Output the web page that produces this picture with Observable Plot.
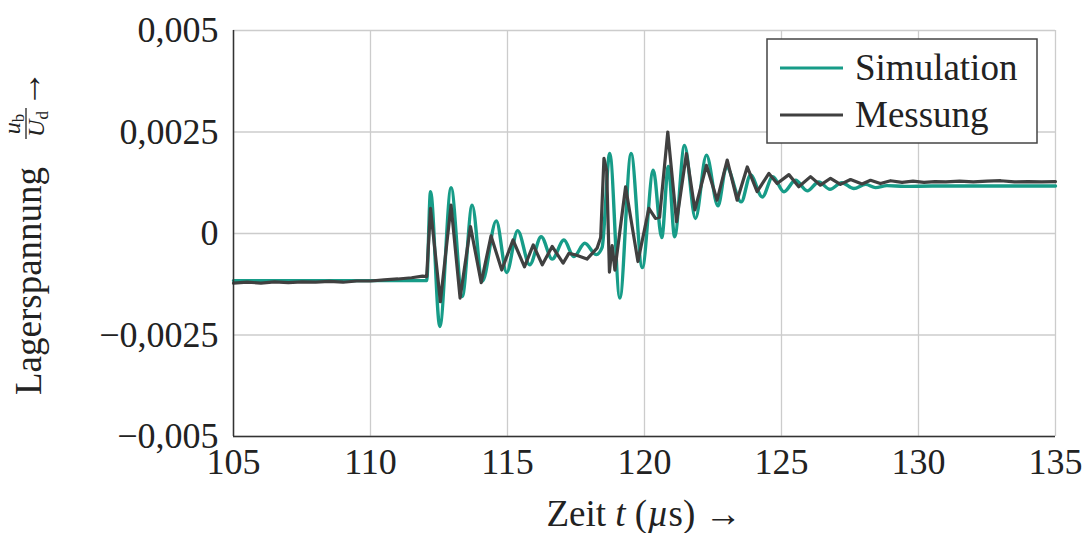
<!DOCTYPE html>
<html><head><meta charset="utf-8">
<script src="https://cdn.jsdelivr.net/npm/d3@7"></script>
<script src="https://cdn.jsdelivr.net/npm/@observablehq/plot@0.6"></script>
<style>
html,body{margin:0;padding:0;background:#fff;}
#chart svg{display:block;}
</style></head><body><div id="chart"></div>
<script>
// Simulation (time in µs, value in 1e-3 of U_d)
const simT = [105,112.05,112.19,112.53,112.94,113.35,113.71,114.08,114.59,114.97,115.37,115.81,116.23,116.63,117.06,117.42,117.82,118.24,118.45,118.73,119.10,119.51,119.92,120.32,120.63,120.87,121.10,121.46,121.86,122.26,122.68,122.99,123.53,123.87,124.30,124.68,125.09,125.51,125.94,126.36,126.77,127.20,127.64,128.07,128.43,128.85,129.5,130.5,135];
const simV = [-1.16,-1.16,1.03,-2.29,1.13,-1.55,0.70,-1.18,0.31,-0.96,0.07,-0.77,-0.08,-0.63,-0.16,-0.57,-0.24,-0.52,-0.35,1.97,-1.59,1.97,-0.84,1.56,-0.10,1.65,-0.08,2.17,0.37,1.93,0.68,1.64,0.78,1.44,0.90,1.40,1.03,1.31,1.05,1.27,1.09,1.25,1.11,1.21,1.13,1.18,1.16,1.17,1.17];
// Messung
const mesT = [105,105.5,106,106.5,107,107.5,108,108.5,109,109.5,110,110.5,111,111.5,111.9,112.05,112.19,112.55,112.94,113.27,113.65,114.04,114.40,114.79,115.20,115.62,115.94,116.27,116.63,117.03,117.24,117.5,117.9,118.27,118.40,118.52,118.62,118.72,118.82,118.92,119.31,119.76,120.16,120.40,120.55,120.85,121.17,121.53,121.84,122.26,122.65,123.02,123.38,123.75,124.11,124.54,124.84,125.27,125.63,126.06,126.42,126.79,127.15,127.52,127.94,128.25,128.61,128.98,129.4,129.8,130.2,130.6,131,131.5,132,132.5,133,133.5,134,134.5,135];
const mesV = [-1.22,-1.20,-1.22,-1.19,-1.21,-1.19,-1.20,-1.18,-1.20,-1.17,-1.17,-1.14,-1.12,-1.09,-1.05,-1.06,0.62,-1.68,0.70,-1.59,0.17,-1.21,-0.06,-0.90,-0.16,-0.82,-0.28,-0.77,-0.32,-0.73,-0.49,-0.53,-0.63,-0.36,-0.10,1.85,1.55,-0.95,-0.30,-0.90,1.15,-0.69,0.62,0.37,0.40,2.50,0.29,1.97,0.58,1.68,0.82,1.81,0.82,1.64,1.03,1.48,1.23,1.45,1.15,1.40,1.19,1.36,1.21,1.33,1.22,1.31,1.23,1.30,1.26,1.29,1.26,1.28,1.27,1.29,1.27,1.29,1.30,1.27,1.28,1.27,1.28];

const xTicks = [105,110,115,120,125,130,135];
const yTicks = [-0.005,-0.0025,0,0.0025,0.005];
const yTickLabels = ["−0,005","−0,0025","0","0,0025","0,005"];
const seriesNames = ["Simulation","Messung"];
const seriesColors = ["#179c88","#404040"];

const sim = simT.map((t,i)=>({t, v: simV[i]*1e-3}));
const mes = mesT.map((t,i)=>({t, v: mesV[i]*1e-3}));

const FONT = '"Liberation Serif", "Times New Roman", serif';

const plot = Plot.plot({
  width:1087, height:533,
  marginLeft:233, marginRight:32, marginTop:30, marginBottom:97,
  style:{fontFamily:FONT, fontSize:"36px", color:"#222", background:"#fff"},
  x:{domain:[105,135]},
  y:{domain:[-0.005,0.005]},
  marks:[
    Plot.gridX(xTicks,{stroke:"#cccccc",strokeOpacity:1,strokeWidth:1.3}),
    Plot.gridY(yTicks,{stroke:"#cccccc",strokeOpacity:1,strokeWidth:1.3}),
    Plot.line(sim,{x:"t",y:"v",stroke:seriesColors[0],strokeWidth:3.4,curve:"monotone-x"}),
    Plot.line(mes,{x:"t",y:"v",stroke:seriesColors[1],strokeWidth:3.2,strokeLinejoin:"round"}),
    Plot.ruleX([105],{stroke:"#333",strokeWidth:1.5}),
    Plot.ruleY([-0.005],{stroke:"#333",strokeWidth:1.5}),
    Plot.axisX(xTicks,{tickSize:0,tickPadding:12,label:null,tickFormat:d=>String(d)}),
    Plot.axisY(yTicks,{tickSize:0,tickPadding:15,label:null,tickFormat:d=>yTickLabels[yTicks.indexOf(d)]})
  ]
});
document.getElementById("chart").appendChild(plot);

const svg = d3.select(plot);

// Legend
const lg = svg.append("g").attr("font-family",FONT).attr("font-size",37).attr("fill","#222").attr("text-anchor","start");
lg.append("rect").attr("x",767).attr("y",39).attr("width",270).attr("height",104)
  .attr("fill","#fff").attr("stroke","#444").attr("stroke-width",1.5);
seriesNames.forEach((n,i)=>{
  const yy = 68 + i*47;
  lg.append("line").attr("x1",780).attr("x2",843).attr("y1",yy).attr("y2",yy)
    .attr("stroke",seriesColors[i]).attr("stroke-width",3.2);
  lg.append("text").attr("x",855).attr("y",yy+12).attr("text-anchor","start").text(n);
});

// X label
const xl = svg.append("text").attr("x",644).attr("y",526).attr("text-anchor","middle")
  .attr("font-family",FONT).attr("font-size",37).attr("fill","#222");
xl.append("tspan").text("Zeit ");
xl.append("tspan").attr("font-style","italic").text("t");
xl.append("tspan").text(" (");
xl.append("tspan").attr("font-style","italic").text("µ");
xl.append("tspan").text("s) →");

// Y label (rotated)
const yl = svg.append("g").attr("transform","translate(41,0) rotate(-90)")
  .attr("font-family",FONT).attr("fill","#222");
yl.append("text").attr("x",-395).attr("y",0).attr("text-anchor","start").attr("font-size",37).text("Lagerspannung");
const num = yl.append("text").attr("x",-124).attr("y",-21).attr("text-anchor","middle").attr("font-size",24);
num.append("tspan").attr("font-style","italic").text("u");
num.append("tspan").attr("font-size",17).attr("dy",4).text("b");
yl.append("line").attr("x1",-139).attr("x2",-108).attr("y1",-15).attr("y2",-15)
  .attr("stroke","#222").attr("stroke-width",1.3);
const den = yl.append("text").attr("x",-124).attr("y",3).attr("text-anchor","middle").attr("font-size",24);
den.append("tspan").attr("font-style","italic").text("U");
den.append("tspan").attr("font-size",17).attr("dy",4).text("d");
yl.append("text").attr("x",-89).attr("y",0).attr("text-anchor","middle").attr("font-size",37).text("→");
</script>
</body></html>
